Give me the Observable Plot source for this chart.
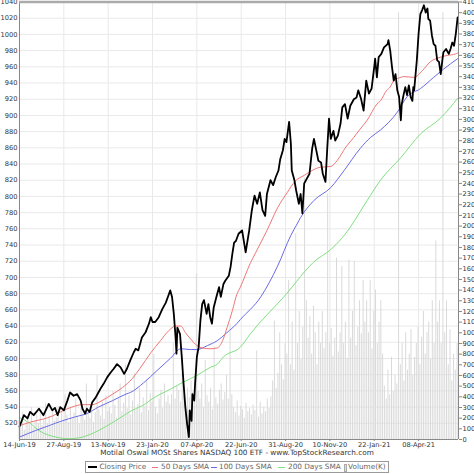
<!DOCTYPE html>
<html>
<head>
<meta charset="utf-8">
<script src="https://cdn.jsdelivr.net/npm/d3@7"></script>
<script src="https://cdn.jsdelivr.net/npm/@observablehq/plot@0.6"></script>
<style>
  html, body { margin: 0; padding: 0; background: #fff; }
  #wrap { position: relative; width: 474px; height: 474px; overflow: hidden; font-family: "DejaVu Sans", sans-serif; }
  #title { position: absolute; left: 0; width: 474px; top: 448px; height: 10px; line-height: 10px; text-align: center; font-size: 7.3px; color: #333; white-space: nowrap; }
  #legend { position: absolute; left: 85px; top: 461px; width: 302px; height: 10px; border: 1px solid #999; font-size: 7.3px; color: #666; }
  #legend span { position: absolute; top: 0; line-height: 10px; white-space: nowrap; }
  #legend i { position: absolute; display: block; }
</style>
</head>
<body>
<div id="wrap">
  <div id="chart"></div>
  <div id="title"></div>
  <div id="legend"></div>
</div>
<script>
// ---- data ----
const titleText = "Motilal Oswal MOSt Shares NASDAQ 100 ETF - www.TopStockResearch.com";
const legendLabels = ["Closing Price", "50 Days SMA", "100 Days SMA", "200 Days SMA", "Volume(K)"];

const xTickDays = [0, 50, 100, 150, 200, 250, 300, 350, 400, 450];
const xTickLabels = ["14-Jun-19", "27-Aug-19", "13-Nov-19", "23-Jan-20", "07-Apr-20", "22-Jun-20", "31-Aug-20", "10-Nov-20", "22-Jan-21", "08-Apr-21"];
const priceTicks = d3.range(520, 1041, 20);
const volumeTicks = d3.range(0, 4101, 100);

const closeDay = [0,5,9,12,16,22,27,33,37,40,43,46,50,54,57,61,65,69,71,74,76,79,82,86,89,92,95,99,103,106,110,114,118,121,125,129,131,134,138,142,146,148,150,153,157,161,165,168,170,172,174,176,177,178,181,183,185,187,189,191,192,194,195,197,198,200,202,204,206,208,211,213,215,217,219,222,225,227,230,232,236,238,240,242,244,247,251,255,259,262,265,268,271,274,277,279,283,286,289,292,294,297,299,301,304,306,307,310,312,315,317,319,321,324,327,330,332,335,337,340,342,345,347,349,351,354,356,359,362,364,367,370,373,377,380,382,385,388,391,394,397,400,401,403,405,408,411,415,416,418,420,422,424,426,428,430,431,433,435,437,439,441,443,444,445,448,450,452,454,456,458,460,461,463,465,467,469,471,473,475,477,478,481,484,486,488,490,492,494];
const closePrice = [516,530,526,534,530,538,530,544,536,539,530,540,536,548,558,554,556,548,538,532,538,534,546,552,558,564,569,577,583,587,593,589,581,587,598,608,612,610,626,632,643,651,645,645,651,661,669,678,684,676,655,626,606,638,630,602,569,540,519,503,536,523,556,548,569,602,614,647,667,672,655,667,651,643,663,676,688,676,692,696,702,713,729,743,745,754,758,731,758,783,801,791,805,783,776,803,820,814,824,832,846,857,871,867,892,865,832,820,807,791,803,779,816,822,828,859,871,855,844,842,828,818,859,896,871,881,869,875,890,910,914,896,912,920,922,931,921,906,943,927,933,960,970,947,972,976,984,988,993,980,960,943,951,931,923,894,914,925,935,925,937,923,918,935,931,968,1001,1025,1030,1036,1027,1032,1019,1017,999,988,986,968,966,951,970,978,982,976,982,990,986,1001,1021];

const sma50Day = [0,14,26,37,48,59,71,82,93,105,116,127,136,148,159,168,176,182,187,193,200,206,215,223,229,234,240,245,249,260,266,279,291,302,311,321,330,339,351,358,368,377,384,392,403,407,414,418,422,430,433,445,454,463,475,482,492,494];
const sma50 = [517,522,525,529,535,540,543,543,548,556,564,575,588,607,622,634,640,640,632,624,616,613,612,613,622,638,659,679,688,717,730,758,786,805,819,826,832,836,837,844,861,873,883,894,914,918,931,935,943,947,948,947,955,966,972,974,976,977];

const sma100Day = [0,18,33,48,63,76,89,105,120,125,140,155,170,182,193,200,212,223,234,245,249,272,291,306,313,317,332,351,366,384,396,407,426,437,452,467,478,494];
const sma100 = [503,511,517,523,528,532,540,548,556,558,570,585,600,612,611,611,616,622,632,643,648,676,714,752,766,774,795,811,832,859,873,882,904,923,933,947,957,970];

const sma200Day = [0,12,22,41,56,71,89,108,127,142,148,170,185,200,215,223,230,249,260,298,336,347,373,384,392,407,430,452,475,494];
const sma200 = [527,520,511,503,501,503,511,523,536,544,549,562,571,579,589,593,602,614,630,676,723,731,762,781,795,820,848,877,897,921];

// volume in thousands, one value every 2 trading days starting at day 0
const volumeK = [
  180,120,250,90,160,200,140,300,110,170,230,150,260,130,190,340,150,220,120,280,170,
  200,310,150,260,180,420,230,160,300,190,250,380,210,150,290,240,180,520,270,200,330,160,250,600,280,220,350,190,410,260,
  300,240,450,320,200,380,520,260,340,700,290,410,230,360,620,280,330,480,250,390,310,560,270,430,350,800,300,240,380,460,290,520,350,410,330,
  420,900,380,500,460,350,620,410,300,480,390,550,440,360,1550,
  450,380,520,300,740,410,350,480,280,870,390,330,460,520,370,440,600,380,1080,420,
  300,250,360,220,310,280,200,340,260,290,230,320,270,830,210,350,240,300,260,380,290,
  400,550,1110,480,620,1000,700,560,900,
  800,1490,700,1100,650,1930,900,1200,750,1050,2450,1300,950,1150,800,1250,1000,700,1100,900,
  1200,850,1000,2300,900,1040,780,950,1700,820,
  1000,1620,900,1100,760,1680,950,1200,1670,880,1050,1300,990,1490,1100,
  1300,1000,1490,850,1200,1400,900,1100,1300,800,
  500,380,650,420,770,450,600,520,4000,700,900,550,1000,650,800,
  1030,600,770,900,1050,700,960,1200,800,1000,1100,750,1300,900,1860,
  1100,1300,900,4000,1000,1300,700,1030,550,800,650,900
];

// ---- build tables ----
const pairs = (days, vals) => days.map((d, i) => ({day: d, value: vals[i]}));
const closeData = pairs(closeDay, closePrice);
const sma50Data = pairs(sma50Day, sma50);
const sma100Data = pairs(sma100Day, sma100);
const sma200Data = pairs(sma200Day, sma200);
const volumeData = volumeK.map((v, i) => ({day: i * 2, value: v}));

// volume shares the vertical range of the price axis (right-hand axis)
const pMin = 500, pMax = 1040, vMax = 4100;
const volToPrice = v => pMin + v * (pMax - pMin) / vMax;
const priceToVol = p => (p - pMin) * vMax / (pMax - pMin);
const labelOf = new Map(xTickDays.map((d, i) => [d, xTickLabels[i]]));

const chart = Plot.plot({
  width: 474,
  height: 450,
  marginLeft: 19,
  marginRight: 16,
  marginTop: 1.5,
  marginBottom: 11,
  x: {domain: [0, 495], axis: null, label: null},
  y: {domain: [pMin, pMax], axis: null, label: null},
  style: {fontFamily: "DejaVu Sans, sans-serif", fontSize: "6.7px", color: "#333", background: "#fff", overflow: "hidden"},
  marks: [
    Plot.gridY(priceTicks, {stroke: "#e9e9e9", strokeOpacity: 1}),
    Plot.gridX(xTickDays, {stroke: "#e9e9e9", strokeOpacity: 1}),
    Plot.rect(volumeData, {
      x1: d => d.day - 0.55, x2: d => d.day + 0.55,
      y1: () => pMin, y2: d => volToPrice(d.value),
      fill: "#d9d9d9"
    }),
    Plot.line(sma200Data, {x: "day", y: "value", stroke: "#7fe07f", strokeWidth: 1, curve: "monotone-x"}),
    Plot.line(sma100Data, {x: "day", y: "value", stroke: "#6a6ae6", strokeWidth: 1, curve: "monotone-x"}),
    Plot.line(sma50Data, {x: "day", y: "value", stroke: "#f07676", strokeWidth: 1, curve: "monotone-x"}),
    Plot.line(closeData, {x: "day", y: "value", stroke: "#000", strokeWidth: 1.8, strokeLinejoin: "round"}),
    Plot.ruleX([0, 495], {stroke: "#888"}),
    Plot.ruleY([pMin], {stroke: "#888"}),
    Plot.ruleY([pMax], {stroke: "#aaa", strokeWidth: 2.5}),
    Plot.axisY(priceTicks, {anchor: "left", label: null, tickSize: 0, tickPadding: 2, fill: "#333", tickFormat: d => String(d)}),
    Plot.axisY(volumeTicks.map(volToPrice), {
      anchor: "right", label: null, tickSize: 3, tickPadding: 1, stroke: "#888", fill: "#333",
      tickFormat: p => String(Math.round(priceToVol(p)))
    }),
    Plot.axisX(xTickDays, {label: null, tickSize: 2, tickPadding: 1, stroke: "#888", fill: "#333", tickFormat: d => labelOf.get(d)})
  ]
});
document.getElementById("chart").appendChild(chart);
document.getElementById("title").textContent = titleText;

// legend
const legend = document.getElementById("legend");
const items = [
  {x: 2, w: 9, color: "#000", h: 2, text: 13.5},
  {x: 66, w: 6, color: "#f07676", h: 1, text: 75},
  {x: 125, w: 6, color: "#6a6ae6", h: 1, text: 133},
  {x: 192, w: 7, color: "#7fe07f", h: 1, text: 202},
  {x: 257.5, w: 1.5, color: "#ddd", h: 6, text: 262}
];
items.forEach((it, i) => {
  const sw = document.createElement("i");
  sw.style.left = it.x + "px";
  sw.style.width = it.w + "px";
  sw.style.height = it.h + "px";
  sw.style.top = (5 - it.h / 2) + "px";
  sw.style.background = it.color;
  if (i === 4) sw.style.border = "0.5px solid #aaa";
  legend.appendChild(sw);
  const t = document.createElement("span");
  t.style.left = it.text + "px";
  t.textContent = legendLabels[i];
  legend.appendChild(t);
});
</script>
</body>
</html>
